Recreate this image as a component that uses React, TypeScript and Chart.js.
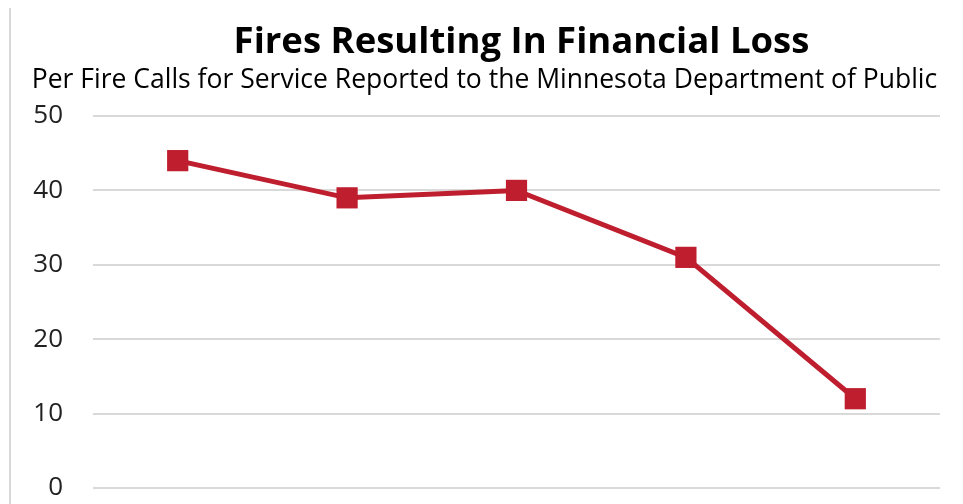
import React, { useEffect, useRef } from "react";
import { Chart, registerables } from "chart.js";

Chart.register(...registerables);

const titleText = "Fires Resulting In Financial Loss";
const subtitleText = "Per Fire Calls for Service Reported to the Minnesota Department of Public";
const categories = ["2015", "2016", "2017", "2018", "2019"];
const firesPerCalls = [44, 39, 40, 31, 12];
const yTicks = [0, 10, 20, 30, 40, 50];

const RED = "#be1e2d";
const FONT = "'Open Sans', 'Noto Sans', sans-serif";

const headings = {
  id: "headings",
  afterDraw(chart: any) {
    const { ctx, chartArea } = chart;
    ctx.save();
    ctx.fillStyle = "#000";
    ctx.textAlign = "center";
    ctx.textBaseline = "alphabetic";
    ctx.font = `bold 36.5px ${FONT}`;
    ctx.fillText(titleText, (chartArea.left + chartArea.right) / 2 + 5, 45);
    ctx.font = `26.5px ${FONT}`;
    ctx.fillText(subtitleText, (chartArea.left + chartArea.right) / 2 - 32, 80);
    ctx.restore();
  },
};

export default function App() {
  const ref = useRef<HTMLCanvasElement | null>(null);
  useEffect(() => {
    if (!ref.current) return;
    const chart = new Chart(ref.current, {
      type: "line",
      data: {
        labels: categories,
        datasets: [
          {
            data: firesPerCalls,
            borderColor: RED,
            backgroundColor: RED,
            borderWidth: 5,
            pointStyle: "rect",
            pointRadius: 15,
            pointHoverRadius: 15,
            pointBorderWidth: 0,
            tension: 0,
          },
        ],
      },
      options: {
        animation: false,
        responsive: true,
        maintainAspectRatio: false,
        layout: { padding: { top: 108, left: 0, right: 13, bottom: 48 } },
        plugins: {
          legend: { display: false },
          tooltip: { enabled: false },
          title: { display: false },
          subtitle: { display: false },
        },
        scales: {
          x: {
            offset: true,
            grid: { display: false },
            border: { display: false },
            ticks: { display: false },
          },
          y: {
            min: 0,
            max: 50,
            afterBuildTicks: (axis: any) => {
              axis.ticks = yTicks.map((v) => ({ value: v }));
            },
            afterFit: (axis: any) => {
              axis.width = 82;
            },
            grid: { color: "#d9d9d9", lineWidth: 2, drawTicks: false },
            border: { display: false },
            ticks: { color: "#222", padding: 30, font: { family: FONT, size: 26 } },
          },
        },
      },
      plugins: [headings],
    });
    return () => chart.destroy();
  }, []);
  return (
    <div
      style={{
        margin: "-2px 0 0 1px",
        width: 948,
        height: 540,
        border: "2px solid #d9d9d9",
        boxSizing: "border-box",
        position: "relative",
        background: "#fff",
      }}
    >
      <canvas ref={ref} />
    </div>
  );
}
